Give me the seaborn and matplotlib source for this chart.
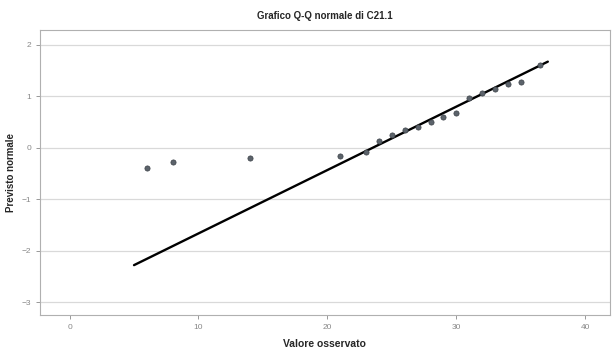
import numpy as np
import pandas as pd
import matplotlib
matplotlib.use("Agg")
import matplotlib.pyplot as plt
import seaborn as sns

# --- dati ---
valori_osservati = [6, 8, 14, 21, 23, 24, 25, 26, 27, 28, 29, 30, 31, 32, 33, 34, 35, 36.5]
normale_prevista = [-0.39, -0.27, -0.19, -0.15, -0.08, 0.14, 0.25, 0.35, 0.41, 0.50,
                    0.60, 0.68, 0.97, 1.07, 1.14, 1.24, 1.28, 1.61]
media = 23.5
dev_std = 8.13
range_linea = [5.0, 37.1]
x_ticks = [0, 10, 20, 30, 40]
y_ticks = [-3, -2, -1, 0, 1, 2]

df = pd.DataFrame({"Valore osservato": valori_osservati, "Previsto normale": normale_prevista})
linea = pd.DataFrame({"x": range_linea})
linea["z"] = (linea["x"] - media) / dev_std

sns.set_theme(style="white")
plt.rcParams["font.family"] = ["Liberation Sans", "DejaVu Sans"]

fig = plt.figure(figsize=(6.14, 3.51), dpi=100)
ax = fig.add_axes([0.065, 0.103, 0.928, 0.812])

sns.lineplot(data=linea, x="x", y="z", color="black", linewidth=1.7, ax=ax)
sns.scatterplot(data=df, x="Valore osservato", y="Previsto normale", s=14,
                color="#5c636b", edgecolor="#3a4046", linewidth=0.5, ax=ax, zorder=3)

ax.set_xlim(-2.3, 41.9)
ax.set_ylim(-3.24, 2.29)
ax.set_xticks(x_ticks)
ax.set_yticks(y_ticks)
ax.yaxis.grid(True, color="#d9d9d9", linewidth=0.9)
ax.set_axisbelow(True)
ax.tick_params(axis="both", labelsize=6, colors="#888888", length=3, width=0.6,
               direction="out", left=True, bottom=True)
for s in ax.spines.values():
    s.set_color("#b0b0b0")
    s.set_linewidth(0.8)

ax.set_xlabel("Valore osservato", fontsize=7.5, fontweight="bold", labelpad=6)
ax.set_ylabel("Previsto normale", fontsize=7, fontweight="bold", labelpad=4)
ax.set_title("Grafico Q-Q normale di C21.1", fontsize=7, fontweight="bold", pad=8)

fig.savefig("out.png", dpi=100, facecolor="white")
